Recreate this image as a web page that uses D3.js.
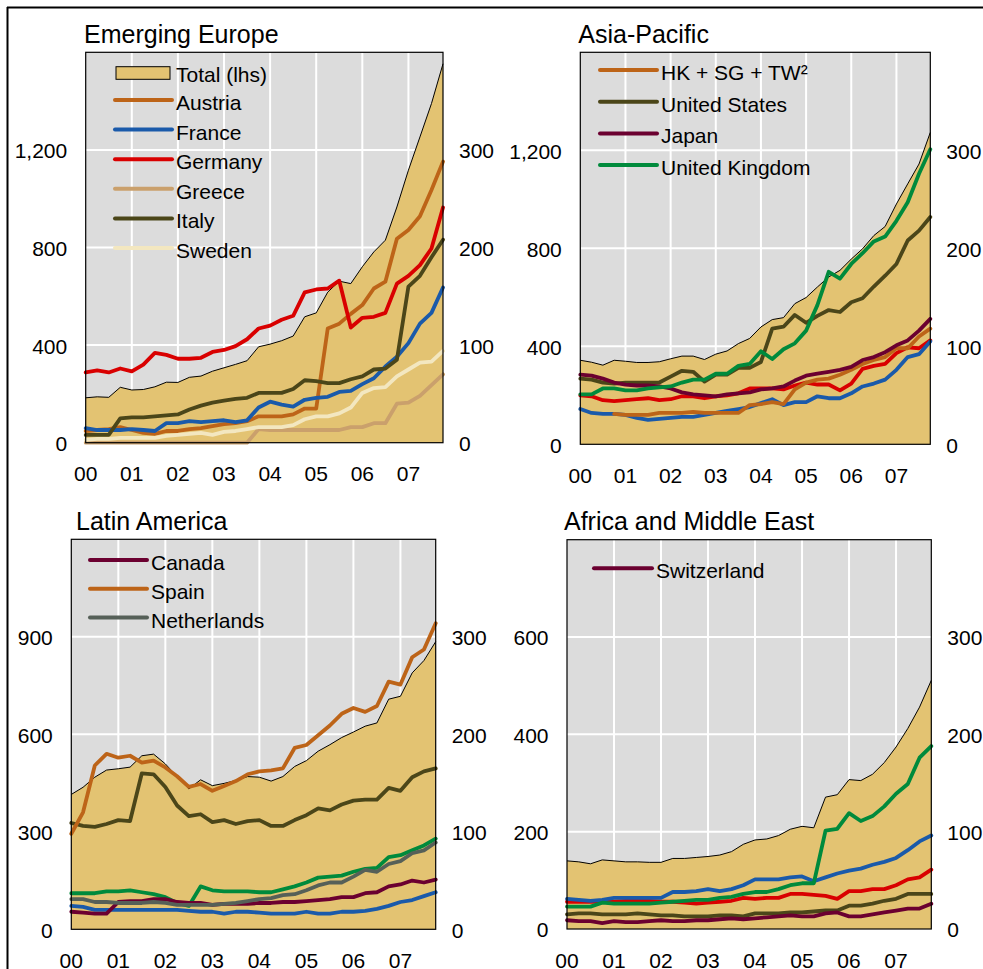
<!DOCTYPE html>
<html>
<head>
<meta charset="utf-8">
<script src="https://cdn.jsdelivr.net/npm/d3@7"></script>
<style>
  body { margin: 0; background: #fff; }
  svg { display: block; font-family: "Liberation Sans", Arial, sans-serif; }
</style>
</head>
<body>
<div id="chart"></div>
<script>
// quarterly points, 2000 Q1 to 2007 Q4
const quarters = d3.range(2000, 2008, 0.25)
const yearTicks = [2000, 2001, 2002, 2003, 2004, 2005, 2006, 2007]
const yearLabels = ['00', '01', '02', '03', '04', '05', '06', '07']

// Emerging Europe (total lhs, countries rhs)
const eeTotal = [184, 188, 186, 227, 216, 218, 229, 248, 247, 268, 273, 293, 307, 321, 336, 393, 404, 418, 437, 516, 532, 617, 662, 652, 721, 782, 830, 966, 1117, 1253, 1390, 1553]
const eeAustria = [12, 13, 14, 16, 13, 10, 9, 12, 12, 14, 15, 17, 19, 20, 22, 27, 27, 27, 29, 35, 35, 117, 122, 132, 141, 158, 165, 209, 218, 232, 259, 288]
const eeFrance = [15, 13, 13, 13, 14, 13, 12, 20, 20, 22, 21, 22, 23, 21, 23, 36, 42, 39, 37, 44, 46, 47, 52, 53, 60, 66, 78, 88, 102, 122, 133, 159]
const eeGermany = [72, 74, 72, 76, 73, 80, 92, 90, 86, 86, 87, 93, 95, 99, 106, 117, 120, 126, 130, 154, 157, 158, 166, 118, 128, 129, 133, 163, 171, 182, 199, 241]
const eeGreece = [0, 0, 0, 0, 0, 0, 0, 0, 0, 0, 0, 0, 0, 0, 0, 14, 13, 13, 13, 13, 13, 13, 13, 16, 16, 20, 20, 40, 41, 48, 59, 70]
const eeItaly = [8, 8, 8, 25, 26, 26, 27, 28, 29, 34, 38, 41, 43, 45, 46, 51, 51, 51, 55, 64, 63, 61, 61, 65, 68, 75, 76, 85, 160, 171, 190, 208]
const eeSweden = [3, 4, 4, 5, 5, 5, 5, 7, 8, 9, 10, 8, 11, 12, 14, 16, 16, 16, 18, 24, 27, 27, 30, 36, 51, 56, 57, 68, 75, 82, 83, 94]

// Asia-Pacific
const apTotal = [343, 335, 323, 343, 339, 334, 334, 337, 349, 360, 360, 346, 368, 381, 411, 432, 479, 509, 517, 574, 599, 642, 683, 710, 756, 798, 852, 889, 981, 1063, 1144, 1273]
const apHK = [null, null, null, 31, 30, 30, 30, 32, 32, 32, 33, 32, 32, 32, 32, 40, 41, 43, 41, 56, 63, 66, 67, 71, 76, 82, 86, 89, 98, 98, 110, 118]
const apUS = [67, 66, 63, 62, 63, 63, 63, 63, 69, 75, 74, 64, 71, 71, 78, 78, 84, 118, 120, 132, 124, 131, 137, 135, 145, 149, 161, 172, 184, 208, 218, 232]
const apJapan = [71, 70, 67, 63, 61, 60, 60, 59, 57, 53, 51, 50, 49, 51, 52, 53, 56, 57, 59, 65, 70, 72, 74, 76, 79, 86, 89, 94, 101, 106, 116, 128]
const apUK = [51, 51, 57, 57, 55, 55, 57, 58, 59, 63, 66, 66, 72, 72, 80, 82, 95, 87, 97, 103, 116, 142, 176, 169, 184, 195, 207, 212, 228, 247, 276, 301]
const apGermany = [50, 49, 45, 44, 45, 46, 47, 45, 46, 49, 49, 47, 49, 50, 52, 57, 57, 57, 56, 60, 63, 61, 61, 55, 62, 77, 80, 82, 93, 99, 98, 106]
const apFrance = [36, 32, 31, 31, 30, 27, 25, 26, 27, 28, 28, 30, 32, 34, 36, 38, 42, 46, 40, 43, 43, 49, 47, 47, 52, 59, 62, 66, 76, 89, 92, 105]

// Latin America
const laTotal = [415, 437, 468, 490, 494, 499, 534, 539, 509, 470, 432, 460, 442, 449, 458, 470, 468, 456, 470, 501, 519, 548, 568, 590, 607, 625, 635, 708, 717, 789, 827, 885]
const laSpain = [98, 120, 168, 180, 176, 178, 171, 173, 166, 157, 146, 149, 142, 147, 152, 159, 162, 163, 165, 186, 189, 199, 209, 221, 227, 223, 229, 254, 251, 279, 287, 314]
const laUS = [109, 106, 105, 108, 112, 111, 160, 159, 146, 127, 116, 118, 110, 112, 108, 111, 112, 106, 106, 112, 117, 124, 122, 128, 132, 133, 133, 145, 142, 156, 162, 165]
const laUK = [37, 37, 37, 39, 39, 40, 38, 36, 33, 27, 24, 44, 40, 39, 39, 39, 38, 38, 41, 44, 48, 53, 54, 55, 59, 62, 63, 74, 76, 81, 86, 93]
const laNetherlands = [31, 31, 28, 28, 27, 27, 27, 28, 27, 25, 25, 25, 25, 26, 27, 29, 31, 32, 35, 36, 40, 45, 48, 48, 54, 61, 59, 67, 70, 78, 81, 89]
const laCanada = [18, 17, 16, 16, 28, 29, 29, 31, 31, 28, 27, 27, 25, 26, 26, 26, 27, 27, 28, 28, 29, 30, 31, 33, 33, 37, 38, 44, 46, 50, 48, 51]
const laFrance = [24, 23, 20, 20, 20, 20, 20, 20, 20, 20, 19, 18, 18, 16, 18, 18, 17, 16, 16, 16, 18, 16, 16, 18, 18, 19, 21, 24, 28, 30, 34, 38]

// Africa and Middle East
const amTotal = [140, 138, 134, 142, 140, 138, 138, 137, 137, 145, 145, 147, 149, 152, 159, 174, 183, 185, 192, 205, 211, 208, 271, 276, 307, 305, 318, 342, 374, 412, 456, 511]
const amUK = [23, 23, 23, 27, 26, 26, 26, 26, 27, 28, 29, 30, 30, 32, 33, 36, 38, 38, 41, 45, 47, 47, 101, 103, 119, 111, 116, 126, 139, 149, 176, 188]
const amFrance = [31, 30, 29, 30, 32, 32, 32, 32, 32, 38, 38, 39, 41, 39, 41, 45, 51, 51, 51, 53, 54, 49, 53, 57, 60, 62, 66, 69, 73, 81, 90, 96]
const amGermany = [28, 28, 28, 28, 28, 29, 29, 29, 28, 28, 27, 26, 27, 28, 29, 32, 31, 32, 32, 36, 36, 35, 34, 31, 39, 39, 41, 41, 45, 51, 53, 61]
const amUS = [15, 16, 16, 15, 15, 15, 16, 15, 14, 14, 13, 13, 13, 14, 14, 13, 16, 16, 16, 17, 17, 18, 19, 19, 24, 24, 26, 29, 31, 36, 36, 36]
const amSwitzerland = [9, 8, 8, 6, 8, 7, 7, 8, 9, 8, 8, 9, 9, 10, 11, 10, 11, 12, 13, 14, 13, 13, 16, 17, 13, 13, 15, 17, 19, 21, 21, 26]

const rhsTicks = [0, 100, 200, 300]

// couleurs des pays
const colors = {
  Austria: '#bd6418', Spain: '#bd6418', HK: '#bd6418',
  France: '#1a5aaa', Germany: '#d90000', Greece: '#caa06c',
  Italy: '#4b4619', US: '#4b4619', Sweden: '#f3e7c0',
  Japan: '#6b0030', Canada: '#6b0030', Switzerland: '#6b0030',
  UK: '#008a3c', Netherlands: '#566058'
}
const areaColor = '#e3c372'
const bgColor = '#dcdcdc'
const fs = 21

const panels = [
  {
    title: 'Emerging Europe', tx: 84, ty: 42.5,
    x0: 85.7, x1: 443, y0: 52.3, y1: 442.7,
    lhsMax: 1600, lhsTicks: [0, 400, 800, 1200],
    total: eeTotal,
    lines: [['Austria', eeAustria], ['France', eeFrance], ['Germany', eeGermany], ['Greece', eeGreece], ['Italy', eeItaly], ['Sweden', eeSweden]],
    legend: [['Austria', 'Austria'], ['France', 'France'], ['Germany', 'Germany'], ['Greece', 'Greece'], ['Italy', 'Italy'], ['Sweden', 'Sweden']],
    leg: { x1: 115, x2: 172, tx: 176, y: 100, step: 29.6, totalY: 73 }
  },
  {
    title: 'Asia-Pacific', tx: 578.3, ty: 42.5,
    x0: 580.3, x1: 930.3, y0: 52.3, y1: 444.3,
    lhsMax: 1600, lhsTicks: [0, 400, 800, 1200],
    total: apTotal,
    lines: [['Germany', apGermany], ['France', apFrance], ['HK', apHK], ['US', apUS], ['Japan', apJapan], ['UK', apUK]],
    legend: [['HK', 'HK + SG + TW²'], ['US', 'United States'], ['Japan', 'Japan'], ['UK', 'United Kingdom']],
    leg: { x1: 600, x2: 657, tx: 661, y: 70, step: 31.7 }
  },
  {
    title: 'Latin America', tx: 76, ty: 529.5,
    x0: 71.3, x1: 435.7, y0: 539.3, y1: 929.3,
    lhsMax: 1200, lhsTicks: [0, 300, 600, 900],
    total: laTotal,
    lines: [['France', laFrance], ['US', laUS], ['UK', laUK], ['Canada', laCanada], ['Netherlands', laNetherlands], ['Spain', laSpain]],
    legend: [['Canada', 'Canada'], ['Spain', 'Spain'], ['Netherlands', 'Netherlands']],
    leg: { x1: 90, x2: 147, tx: 151, y: 560, step: 28.8 }
  },
  {
    title: 'Africa and Middle East', tx: 564, ty: 529.5,
    x0: 567, x1: 931.3, y0: 539.7, y1: 929,
    lhsMax: 800, lhsTicks: [0, 200, 400, 600],
    total: amTotal,
    lines: [['US', amUS], ['Germany', amGermany], ['France', amFrance], ['UK', amUK], ['Switzerland', amSwitzerland]],
    legend: [['Switzerland', 'Switzerland']],
    leg: { x1: 594, x2: 652, tx: 656, y: 568.3, step: 30 }
  }
]

const svg = d3.select('#chart')
  .append('svg')
  .attr('width', 983)
  .attr('height', 969)

svg.append('rect').attr('width', 983).attr('height', 969).attr('fill', '#fff')

// cadre extérieur
svg.append('line').attr('x1', 7).attr('x2', 983).attr('y1', 7.5).attr('y2', 7.5)
  .attr('stroke', '#000').attr('stroke-width', 2)
svg.append('line').attr('x1', 7.5).attr('x2', 7.5).attr('y1', 7).attr('y2', 969)
  .attr('stroke', '#000').attr('stroke-width', 2)

panels.forEach(drawPanel)

function drawPanel(p) {
  const g = svg.append('g')
  const x = d3.scaleLinear().domain([2000, 2007.75]).range([p.x0, p.x1])
  const yL = d3.scaleLinear().domain([0, p.lhsMax]).range([p.y1, p.y0])
  const yR = d3.scaleLinear().domain([0, 400]).range([p.y1, p.y0])

  g.append('text')
    .attr('x', p.tx).attr('y', p.ty)
    .attr('font-size', 25)
    .text(p.title)

  g.append('rect')
    .attr('x', p.x0).attr('y', p.y0)
    .attr('width', p.x1 - p.x0).attr('height', p.y1 - p.y0)
    .attr('fill', bgColor)

  // grille
  g.selectAll('.hg')
    .data(p.lhsTicks.filter(d => d > 0))
    .enter()
    .append('line')
    .attr('x1', p.x0).attr('x2', p.x1)
    .attr('y1', d => yL(d)).attr('y2', d => yL(d))
    .attr('stroke', '#fff').attr('stroke-width', 2)
  g.selectAll('.vg')
    .data(yearTicks.slice(1))
    .enter()
    .append('line')
    .attr('x1', d => x(d)).attr('x2', d => x(d))
    .attr('y1', p.y0).attr('y2', p.y1)
    .attr('stroke', '#fff').attr('stroke-width', 2)

  // total (lhs)
  const area = d3.area()
    .x((d, i) => x(quarters[i]))
    .y0(yL(0))
    .y1(d => yL(d))
  g.append('path').datum(p.total).attr('d', area).attr('fill', areaColor)
  const top = d3.line().x((d, i) => x(quarters[i])).y(d => yL(d))
  g.append('path').datum(p.total).attr('d', top)
    .attr('fill', 'none').attr('stroke', '#000').attr('stroke-width', 1)

  // pays (rhs)
  const line = d3.line()
    .defined(d => d != null)
    .x((d, i) => x(quarters[i]))
    .y(d => yR(d))
  p.lines.forEach(([name, vals]) => {
    g.append('path').datum(vals).attr('d', line)
      .attr('fill', 'none')
      .attr('stroke', colors[name])
      .attr('stroke-width', 3.8)
      .attr('stroke-linejoin', 'round')
      .attr('stroke-linecap', 'round')
  })

  g.append('rect')
    .attr('x', p.x0).attr('y', p.y0)
    .attr('width', p.x1 - p.x0).attr('height', p.y1 - p.y0)
    .attr('fill', 'none').attr('stroke', '#000').attr('stroke-width', 1.2)

  // axes
  g.selectAll('.lt')
    .data(p.lhsTicks)
    .enter()
    .append('text')
    .attr('x', p.x0 - 18.5).attr('y', d => yL(d))
    .attr('dy', '0.4em')
    .attr('text-anchor', 'end')
    .attr('font-size', fs)
    .text(d => d3.format(',')(d))
  g.selectAll('.rt')
    .data(rhsTicks)
    .enter()
    .append('text')
    .attr('x', p.x1 + 16).attr('y', d => yR(d))
    .attr('dy', '0.4em')
    .attr('font-size', fs)
    .text(d => d)
  g.selectAll('.xt')
    .data(yearTicks)
    .enter()
    .append('text')
    .attr('x', d => x(d)).attr('y', p.y1 + 38.5)
    .attr('text-anchor', 'middle')
    .attr('font-size', fs)
    .text((d, i) => yearLabels[i])

  // légende
  const L = p.leg
  if (L.totalY) {
    g.append('rect')
      .attr('x', L.x1 + 1).attr('y', L.totalY - 6.3)
      .attr('width', L.x2 - L.x1 - 3).attr('height', 12.6)
      .attr('fill', areaColor).attr('stroke', '#000').attr('stroke-width', 1)
    g.append('text').attr('x', L.tx).attr('y', L.totalY + 8.5)
      .attr('font-size', fs).text('Total (lhs)')
  }
  p.legend.forEach(([key, label], i) => {
    const yy = L.y + i * L.step
    g.append('line')
      .attr('x1', L.x1).attr('x2', L.x2).attr('y1', yy).attr('y2', yy)
      .attr('stroke', colors[key]).attr('stroke-width', 4)
      .attr('stroke-linecap', 'round')
    g.append('text').attr('x', L.tx).attr('y', yy + 10)
      .attr('font-size', fs).text(label)
  })
}
</script>
</body>
</html>
